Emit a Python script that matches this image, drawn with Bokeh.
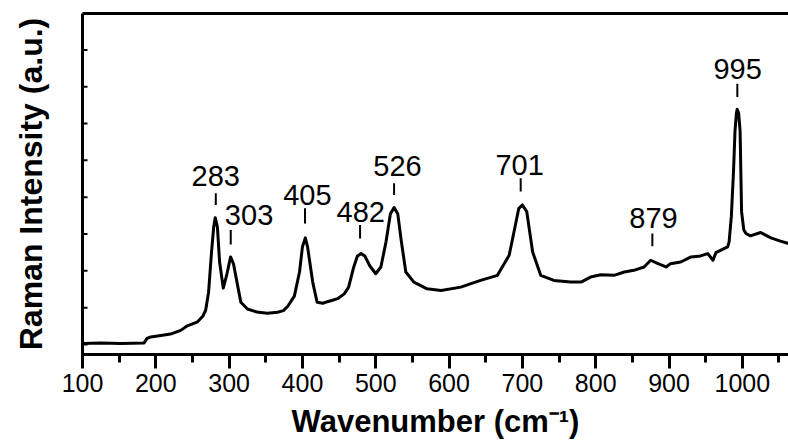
from bokeh.plotting import figure
from bokeh.models import Range1d, LinearAxis, SingleIntervalTicker, FixedTicker, ColumnDataSource
from bokeh.core.properties import value
from bokeh.embed import file_html
from bokeh.resources import INLINE

wavenumber = [100, 125, 152, 184, 188, 193, 207, 220, 234, 243, 257, 264, 268, 272, 276, 279, 281, 284, 287, 292,
              297, 302, 306, 312, 316, 325, 338, 352, 366, 374, 380, 389, 396, 400, 404, 407, 414, 420, 428, 434,
              441, 448, 457, 463, 470, 475, 480, 485, 492, 500, 507, 514, 520, 525, 530, 535, 541, 552, 570, 589,
              616, 643, 666, 682, 690, 695, 700, 706, 714, 725, 743, 766, 780, 793, 807, 825, 839, 852, 866, 875,
              885, 896, 902, 916, 930, 943, 953, 960, 964, 980, 982, 985, 988, 990, 992, 993, 995, 997, 998, 999,
              1002, 1005, 1011, 1025, 1039, 1052, 1063]
intensity = [27, 41, 27, 41, 164, 205, 246, 281, 382, 505, 615, 765, 929, 1421, 2513, 3196, 3442, 3196, 2240, 1530,
             1912, 2377, 2186, 1557, 1147, 964, 880, 850, 874, 920, 1038, 1311, 1967, 2650, 2896, 2650, 1694, 1147, 1120, 1161,
             1200, 1243, 1374, 1557, 2104, 2404, 2467, 2404, 2131, 1921, 2104, 2787, 3552, 3716, 3552, 2787, 1967, 1694, 1511, 1467,
             1557, 1740, 1877, 2423, 3196, 3688, 3789, 3606, 2513, 1877, 1740, 1694, 1694, 1830, 1893, 1877, 1967, 2013, 2104, 2287,
             2194, 2104, 2194, 2240, 2377, 2404, 2467, 2287, 2494, 2650, 2787, 3470, 4699, 5792, 6284, 6385, 6284, 5792, 4699, 3607,
             3114, 3013, 2950, 3041, 2896, 2806, 2740]

y_ticks = [0, 1000, 2000, 3000, 4000, 5000, 6000, 7000, 8000]

peak_labels = ["283", "303", "405", "482", "526", "701", "879", "995"]
peak_tick_x = [281.8, 302.2, 403.5, 478.6, 525.0, 697.7, 877.3, 993.2]
peak_tick_bottom = [3789, 2713, 3287, 2877, 4062, 4153, 2669, 6721]
peak_tick_top = [4106, 3106, 3696, 3243, 4379, 4516, 3013, 7084]
peak_label_x = [281.8, 327.2, 406.8, 479.5, 529.6, 696.3, 878.8, 993.6]
peak_label_y = [4562, 3516, 4062, 3607, 4836, 4882, 3423, 7477]

x_title = "Wavenumber (cm\u207b\u00b9)"
y_title = "Raman Intensity (a.u.)"

FONT = "Liberation Sans"

p = figure(width=788, height=442, output_backend="svg", toolbar_location=None,
           x_range=Range1d(100, 1063), y_range=Range1d(-273, 8989),
           min_border_left=82, min_border_right=0, min_border_top=13, min_border_bottom=88)
p.outline_line_color = None
p.grid.visible = False
p.background_fill_color = "white"
p.border_fill_color = "white"

p.line(wavenumber, intensity, line_color="black", line_width=3, line_join="round")

# inward y ticks
p.scatter(x=[100] * len(y_ticks), y=y_ticks, marker="dash", size=10, line_width=2, line_color="black")

p.segment(x0=peak_tick_x, y0=peak_tick_bottom, x1=peak_tick_x, y1=peak_tick_top,
          line_color="black", line_width=2)
src = ColumnDataSource(dict(x=peak_label_x, y=peak_label_y, t=peak_labels))
p.text(x="x", y="y", text="t", source=src, text_font=value(FONT), text_font_size="29px",
       text_align="center", text_baseline="alphabetic", text_color="black")

xa = p.xaxis[0]
xa.ticker = SingleIntervalTicker(interval=100, num_minor_ticks=2)
xa.axis_line_width = 3
xa.major_tick_line_width = 3
xa.minor_tick_line_width = 3
xa.major_tick_out = 14
xa.major_tick_in = 0
xa.minor_tick_out = 8
xa.minor_tick_in = 0
xa.major_label_text_font = FONT
xa.major_label_text_font_size = "25px"
xa.major_label_text_color = "black"
xa.major_label_standoff = 5
xa.axis_label = x_title
xa.axis_label_text_font = FONT
xa.axis_label_text_font_size = "31px"
xa.axis_label_text_font_style = "bold"
xa.axis_label_text_color = "black"
xa.axis_label_standoff = 9

ya = p.yaxis[0]
ya.ticker = FixedTicker(ticks=[])
ya.axis_line_width = 3
ya.major_tick_line_color = None
ya.minor_tick_line_color = None
ya.axis_label = y_title
ya.axis_label_text_font = FONT
ya.axis_label_text_font_size = "32px"
ya.axis_label_text_font_style = "bold"
ya.axis_label_text_color = "black"
ya.axis_label_standoff = 34

top = LinearAxis(ticker=FixedTicker(ticks=[]))
top.axis_line_width = 3
top.major_tick_line_color = None
top.minor_tick_line_color = None
p.add_layout(top, "above")

open("out.html", "w").write(file_html(p, INLINE))
